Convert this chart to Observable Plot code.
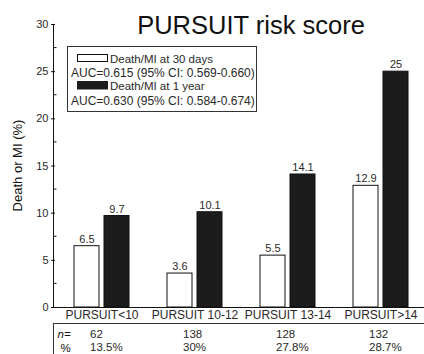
<!DOCTYPE html>
<html><head><meta charset="utf-8">
<script src="https://cdn.jsdelivr.net/npm/d3@7"></script>
<script src="https://cdn.jsdelivr.net/npm/@observablehq/plot@0.6"></script>
<style>body{margin:0;background:#fff}#chart{width:424px;height:354px}</style>
</head><body><div id="chart"></div>
<script>
const groups = ["PURSUIT<10", "PURSUIT 10-12", "PURSUIT 13-14", "PURSUIT>14"];
const series = ["Death/MI at 30 days", "Death/MI at 1 year"];
const day30 = [6.5, 3.6, 5.5, 12.9];
const year1 = [9.7, 10.1, 14.1, 25];
const nValues = [62, 138, 128, 132];
const pctValues = ["13.5%", "30%", "27.8%", "28.7%"];
const aucLabels = ["AUC=0.615 (95% CI: 0.569-0.660)", "AUC=0.630 (95% CI: 0.584-0.674)"];
const yTicks = [0, 5, 10, 15, 20, 25, 30];
const yMinorTicks = [2.5, 7.5, 12.5, 17.5, 22.5, 27.5];
const titleText = "PURSUIT risk score";
const yLabel = "Death or MI (%)";
const rowLabels = ["n=", "%"];

const rows = groups.flatMap((g, i) => [
  {group: g, series: series[0], value: day30[i]},
  {group: g, series: series[1], value: year1[i]}
]);
const table = groups.map((g, i) => ({group: g, n: String(nValues[i]), pct: pctValues[i]}));

const font = "'Liberation Sans', Arial, sans-serif";
const ink = "#2a2a2a";

const chart = Plot.plot({
  width: 424, height: 354,
  marginTop: 24, marginBottom: 47, marginLeft: 53, marginRight: 0,
  style: {fontFamily: font, fontSize: "11px", color: ink, background: "white"},
  fx: {domain: groups, range: [53, 428], paddingInner: 0, paddingOuter: 0},
  x: {domain: series, paddingInner: 0.16, paddingOuter: 0.59},
  y: {domain: [0, 30]},
  color: {domain: series, range: ["white", "#1c1c1c"]},
  marks: [
    Plot.axisFx({anchor: "bottom", tickSize: 0, tickPadding: 3, fontSize: 12, label: null, fill: ink}),
    Plot.axisX({ticks: [], label: null}),
    Plot.axisY({ticks: yTicks, tickSize: 4, tickPadding: 3, fontSize: 11, label: null, fill: ink, stroke: "#111"}),
    Plot.ruleY([0], {stroke: "#111"}),
    Plot.barY(rows, {fx: "group", x: "series", y: "value", fill: "series", stroke: "#111", strokeWidth: 1}),
    Plot.text(rows, {fx: "group", x: "series", y: "value", text: d => String(d.value), dy: -7, fill: ink, fontSize: 11}),
    Plot.text(table, {fx: "group", frameAnchor: "bottom", lineAnchor: "middle", text: "n", textAnchor: "start", dx: -12, dy: 27, fill: ink, fontSize: 11.5}),
    Plot.text(table, {fx: "group", frameAnchor: "bottom", lineAnchor: "middle", text: "pct", textAnchor: "start", dx: -12, dy: 40, fill: ink, fontSize: 11.5}),
    Plot.text([{group: groups[0], label: rowLabels[0]}], {fx: "group", frameAnchor: "bottom-left", lineAnchor: "middle", text: "label", textAnchor: "start", dx: 2, dy: 27, fontStyle: "italic", fontSize: 11.5, fill: "#111"}),
    Plot.text([{group: groups[0], label: rowLabels[1]}], {fx: "group", frameAnchor: "bottom-left", lineAnchor: "middle", text: "label", textAnchor: "start", dx: 5, dy: 41, fontSize: 11.5, fill: "#111"})
  ]
});
document.getElementById("chart").appendChild(chart);

const svg = d3.select(chart);
const y = chart.scale("y");
const y0 = y.apply(0), y30 = y.apply(30);
const ax = 53.5;
// axis line
svg.append("line").attr("x1", ax).attr("x2", ax).attr("y1", y30).attr("y2", y0).attr("stroke", "#111");
// minor ticks
yMinorTicks.forEach(t => {
  svg.append("line").attr("x1", ax).attr("x2", ax + 3).attr("y1", y.apply(t)).attr("y2", y.apply(t)).attr("stroke", "#111");
});
// title
svg.append("text").attr("x", 251).attr("y", 34).attr("text-anchor", "middle")
  .attr("font-family", font).attr("font-size", 25.5).attr("fill", "#111").text(titleText);
// y label
svg.append("text").attr("transform", `translate(22,${(y0 + y30) / 2}) rotate(-90)`)
  .attr("text-anchor", "middle").attr("font-family", font).attr("font-size", 13).attr("fill", "#111").text(yLabel);
// legend
const lg = svg.append("g").attr("font-family", font).attr("font-size", 12).attr("fill", ink).attr("text-anchor", "start");
lg.append("rect").attr("x", 67.5).attr("y", 46.5).attr("width", 189).attr("height", 65).attr("fill", "white").attr("stroke", "#333");
lg.append("rect").attr("x", 77.5).attr("y", 54.5).attr("width", 30).attr("height", 7).attr("fill", "white").attr("stroke", "#111");
lg.append("rect").attr("x", 77).attr("y", 81).attr("width", 31).attr("height", 8.5).attr("fill", "#1c1c1c");
lg.append("text").attr("x", 110).attr("y", 58.5).attr("dy", "0.35em").attr("font-size", 11.5).text(series[0]);
lg.append("text").attr("x", 71).attr("y", 73).attr("dy", "0.35em").text(aucLabels[0]);
lg.append("text").attr("x", 110).attr("y", 86).attr("dy", "0.35em").attr("font-size", 11.5).text(series[1]);
lg.append("text").attr("x", 71).attr("y", 101).attr("dy", "0.35em").text(aucLabels[1]);
// table frame
svg.append("line").attr("x1", 53).attr("x2", 424).attr("y1", 323.5).attr("y2", 323.5).attr("stroke", "#333");
svg.append("line").attr("x1", 53.5).attr("x2", 53.5).attr("y1", 323).attr("y2", 354).attr("stroke", "#333");
</script>
</body></html>
